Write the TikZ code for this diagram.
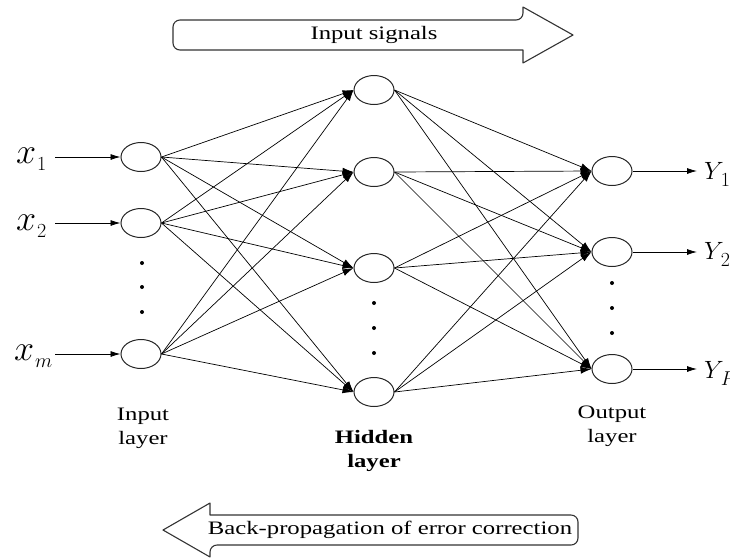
\RequirePackage{fix-cm}
\documentclass[tikz,border=0pt]{standalone}
\usepackage{fontspec}
\setmainfont{Liberation Serif}
\newfontfamily\widefont{Liberation Serif}[FakeStretch=1.3, BoldFont={Liberation Serif Bold}, BoldFeatures={FakeStretch=1.3}]
\usetikzlibrary{arrows.meta,shapes.geometric}
\newcommand{\sublab}[4]{{\fontsize{#1}{#1}\selectfont$#2$}\kern#4\raisebox{-7pt}{\fontsize{20}{20}\selectfont$#3$}}
\begin{document}
\begin{tikzpicture}[x=1pt,y=-1pt,
  neuron/.style={draw=black!85, ellipse, minimum width=40pt, minimum height=29pt, inner sep=0pt, line width=1pt},
  conn/.style={line width=0.7pt, -{Latex[length=11pt,width=7pt]}},
  inarrow/.style={line width=0.8pt, -{Latex[length=10pt,width=6pt]}},
  dotmark/.style={circle, fill, inner sep=0pt, minimum size=4pt},
  lbl/.style={font=\fontsize{19}{24}\selectfont\widefont, align=center, inner sep=0pt},
  blbl/.style={font=\fontsize{19}{24}\selectfont\widefont\bfseries, align=center, inner sep=0pt},
  bigarrow/.style={draw=black!80, line width=1.1pt, line join=round},
  xlab/.style={anchor=base west, inner sep=0pt},
]
\useasboundingbox (0,0) rectangle (730,558);

% big arrows
\draw[bigarrow] (523,7) -- (573,35) -- (523,63) -- (523,50) [rounded corners=7pt] -- (173,50) -- (173,20) -- (523,20) [sharp corners] -- cycle;
\node[lbl] (sig) at (374,35) {Input signals};

\draw[bigarrow] (163,530) -- (210,503) -- (210,515) [rounded corners=7pt] -- (578,515) -- (578,545) -- (210,545) [sharp corners] -- (210,557) -- cycle;
\node[lbl] (bp) at (390,530) {Back-propagation of error correction};

% neurons
\node[neuron] (i1) at (141,157) {};
\node[neuron] (i2) at (141,223) {};
\node[neuron] (i3) at (141,354) {};
\node[neuron] (h1) at (374,90) {};
\node[neuron] (h2) at (374,172) {};
\node[neuron] (h3) at (374,268) {};
\node[neuron] (h4) at (374,392) {};
\node[neuron] (o1) at (612,171) {};
\node[neuron] (o2) at (612,252) {};
\node[neuron] (o3) at (612,369) {};

% dots
\foreach \n/\x/\y in {a1/142/263,a2/142/287,a3/142/312,b1/374/303,b2/374/328,b3/374/353,c1/612/283,c2/612/308,c3/612/333}
  \node[dotmark] (d\n) at (\x,\y) {};

% connections
\foreach \i in {i1,i2,i3}
  \foreach \h in {h1,h2,h3,h4}
    \draw[conn] (\i.east) -- (\h.west);
\foreach \h in {h1,h2,h3,h4}
  \foreach \o in {o1,o2,o3}
    \draw[conn] (\h.east) -- (\o.west);

% inputs
\coordinate (s1) at (55,157);
\coordinate (s2) at (55,223);
\coordinate (s3) at (55,354);
\draw[inarrow] (s1) -- (i1.west);
\draw[inarrow] (s2) -- (i2.west);
\draw[inarrow] (s3) -- (i3.west);
\node[xlab] (x1) at (16,163) {\sublab{36}{x}{1}{1pt}};
\node[xlab] (x2) at (16,230) {\sublab{36}{x}{2}{1pt}};
\node[xlab] (x3) at (14,360) {\sublab{36}{x}{m}{1pt}};

% outputs
\coordinate (t1) at (697,171);
\coordinate (t2) at (697,252);
\coordinate (t3) at (697,369);
\draw[inarrow] (o1.east) -- (t1);
\draw[inarrow] (o2.east) -- (t2);
\draw[inarrow] (o3.east) -- (t3);
\node[xlab] (y1) at (704,179) {\sublab{25}{Y}{1}{-3pt}};
\node[xlab] (y2) at (704,259) {\sublab{25}{Y}{2}{-3pt}};
\node[xlab] (y3) at (704,378) {\sublab{25}{Y}{P}{-3pt}};

% layer labels
\node[lbl] (li) at (143,428) {Input\\layer};
\node[blbl] (lh) at (374,451) {Hidden\\layer};
\node[lbl] (lo) at (612,426) {Output\\layer};
\end{tikzpicture}
\end{document}
